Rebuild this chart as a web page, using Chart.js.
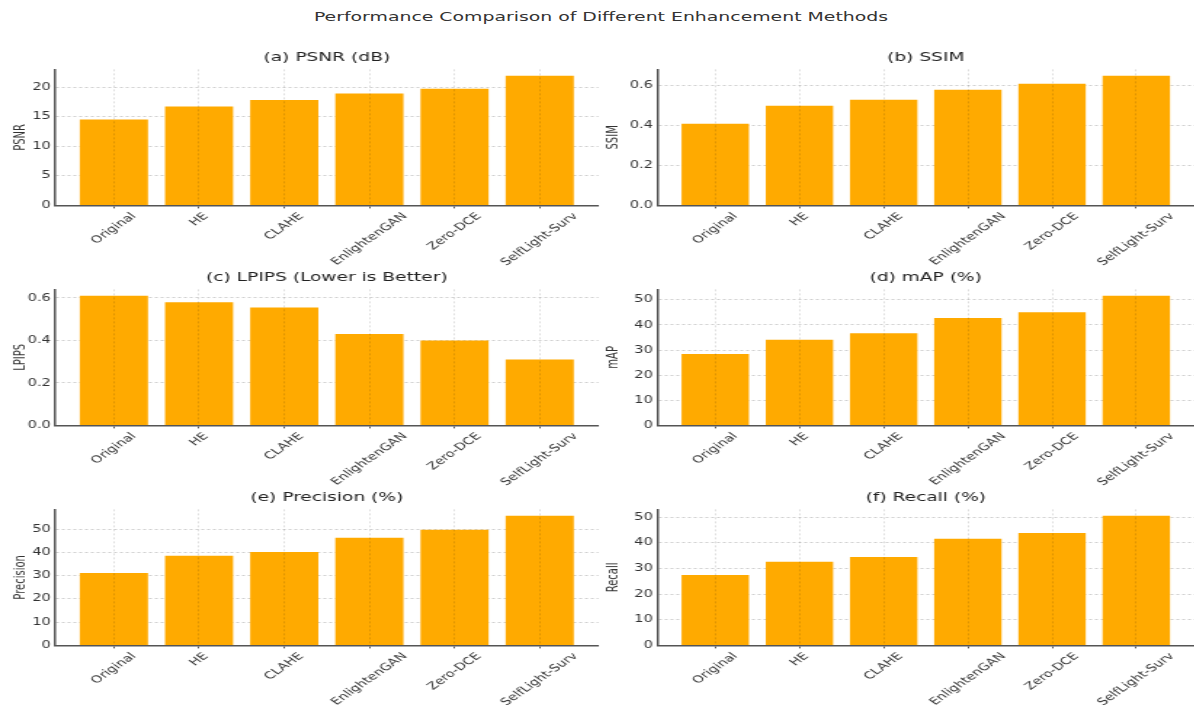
<!DOCTYPE html>
<html>
<head>
<meta charset="utf-8">
<script src="https://cdn.jsdelivr.net/npm/chart.js@4.4.1/dist/chart.umd.min.js"></script>
<style>
    body { margin: 0; background: #fff; width: 1194px; height: 705px; overflow: hidden; position: relative; font-family: "DejaVu Sans", sans-serif; }
    #main-title { position: absolute; top: 6px; left: 0; width: 1194px; text-align: center; }
    #main-title span { display: inline-block; font-size: 13px; color: #333; transform: scaleX(1.45); transform-origin: 50% 50%; margin-left: 8px; }
    .panel { position: absolute; transform-origin: 0 0; }
</style>
</head>
<body>
<div id="main-title"><span>Performance Comparison of Different Enhancement Methods</span></div>
<div class="panel" id="p0"><canvas id="psnrChart"></canvas></div>
<div class="panel" id="p1"><canvas id="ssimChart"></canvas></div>
<div class="panel" id="p2"><canvas id="lpipsChart"></canvas></div>
<div class="panel" id="p3"><canvas id="mapChart"></canvas></div>
<div class="panel" id="p4"><canvas id="precisionChart"></canvas></div>
<div class="panel" id="p5"><canvas id="recallChart"></canvas></div>

<script>
const methods = ['Original', 'HE', 'CLAHE', 'EnlightenGAN', 'Zero-DCE', 'SelfLight-Surv'];

const psnrValues = [14.5, 16.7, 17.8, 18.9, 19.7, 21.9];
const ssimValues = [0.41, 0.50, 0.53, 0.58, 0.61, 0.65];
const lpipsValues = [0.61, 0.58, 0.555, 0.43, 0.40, 0.31];
const mapValues = [28.4, 34.1, 36.7, 42.8, 45.1, 51.6];
const precisionValues = [31.1, 38.5, 40.1, 46.3, 49.7, 55.7];
const recallValues = [27.4, 32.6, 34.5, 41.6, 43.8, 50.5];

const BAR_COLOR = '#FFAA00';
const FONT = '"DejaVu Sans", sans-serif';
// the source figure is stretched sideways, so every panel is drawn narrow and scaled in x
const STRETCH = 1.45;

// matplotlib centres rotated tick labels on the tick, Chart.js right-aligns them
const centerRotatedLabels = {
    id: 'centerRotatedLabels',
    beforeDraw(chart) {
        const items = chart.scales.x.getLabelItems();
        if (items._centered) return;
        const ctx = chart.ctx;
        items.forEach(item => {
            ctx.save();
            ctx.font = item.font.string;
            const w = ctx.measureText(item.label).width;
            ctx.restore();
            item.options.translation[0] += w * Math.SQRT1_2 / 2;
        });
        items._centered = true;
    }
};

function initBarChart(id, panelId, title, yLabel, values, step, decimals, col, row) {
    const tops = [45, 265, 485];
    const heights = [235, 235, 220];
    const panel = document.getElementById(panelId);
    const outerLeft = col === 0 ? 0 : 600;
    const outerWidth = col === 0 ? 600 : 594;
    panel.style.left = outerLeft + 'px';
    panel.style.top = tops[row] + 'px';
    panel.style.width = (outerWidth / STRETCH) + 'px';
    panel.style.height = heights[row] + 'px';
    panel.style.transform = `scaleX(${STRETCH})`;

    const yWidth = (col === 0 ? 55 : 57) / STRETCH;
    const padRight = (col === 0 ? 3 : 1) / STRETCH;
    const xHeight = heights[row] - 24.4 - 136;
    const yMax = Math.max(...values) * 1.05;

    const ctx = document.getElementById(id).getContext('2d');
    new Chart(ctx, {
        type: 'bar',
        data: {
            datasets: [{
                data: values.map((v, i) => ({ x: i, y: v })),
                backgroundColor: BAR_COLOR,
                borderWidth: 0,
                barPercentage: 0.8,
                categoryPercentage: 1.0
            }]
        },
        plugins: [centerRotatedLabels],
        options: {
            responsive: true,
            maintainAspectRatio: false,
            animation: false,
            layout: { padding: { left: 0, right: padRight, top: 0, bottom: 0 } },
            plugins: {
                legend: { display: false },
                tooltip: { enabled: false },
                title: {
                    display: true,
                    fullSize: false,
                    text: title,
                    color: '#222',
                    font: { family: FONT, size: 12.8, weight: 'normal' },
                    padding: { top: 5, bottom: 4 }
                }
            },
            scales: {
                x: {
                    type: 'linear',
                    offset: false,
                    min: -0.69,
                    max: 5.69,
                    afterBuildTicks: scale => { scale.ticks = methods.map((_, i) => ({ value: i })); },
                    afterFit: scale => { scale.height = xHeight; },
                    ticks: {
                        autoSkip: false,
                        minRotation: 45,
                        maxRotation: 45,
                        padding: 2,
                        color: '#333',
                        font: { family: FONT, size: 10 },
                        callback: v => methods[v]
                    },
                    grid: {
                        z: 1,
                        offset: false,
                        color: 'rgba(0,0,0,0.13)',
                        tickColor: '#555',
                        tickLength: 3
                    },
                    border: { z: 1, color: '#555', width: 1.5, dash: [2, 2] }
                },
                y: {
                    min: 0,
                    max: yMax,
                    afterBuildTicks: scale => {
                        const ticks = [];
                        for (let k = 0; k * step <= yMax + 1e-9; k++) ticks.push({ value: +(k * step).toFixed(6) });
                        scale.ticks = ticks;
                    },
                    afterFit: scale => { scale.width = yWidth; },
                    ticks: {
                        padding: 3,
                        color: '#333',
                        font: { family: FONT, size: 10 },
                        callback: v => v.toFixed(decimals)
                    },
                    grid: {
                        color: '#d0d0d0',
                        drawTicks: false
                    },
                    border: { color: '#555', width: 1.5, dash: [2, 2] },
                    title: {
                        display: true,
                        text: yLabel,
                        color: '#333',
                        font: { family: FONT, size: 10 },
                        padding: { top: col === 0 ? 8.5 : 3.7, bottom: 0 }
                    }
                }
            }
        }
    });
}

initBarChart('psnrChart', 'p0', '(a) PSNR (dB)', 'PSNR', psnrValues, 5, 0, 0, 0);
initBarChart('ssimChart', 'p1', '(b) SSIM', 'SSIM', ssimValues, 0.2, 1, 1, 0);
initBarChart('lpipsChart', 'p2', '(c) LPIPS (Lower is Better)', 'LPIPS', lpipsValues, 0.2, 1, 0, 1);
initBarChart('mapChart', 'p3', '(d) mAP (%)', 'mAP', mapValues, 10, 0, 1, 1);
initBarChart('precisionChart', 'p4', '(e) Precision (%)', 'Precision', precisionValues, 10, 0, 0, 2);
initBarChart('recallChart', 'p5', '(f) Recall (%)', 'Recall', recallValues, 10, 0, 1, 2);
</script>
</body>
</html>
